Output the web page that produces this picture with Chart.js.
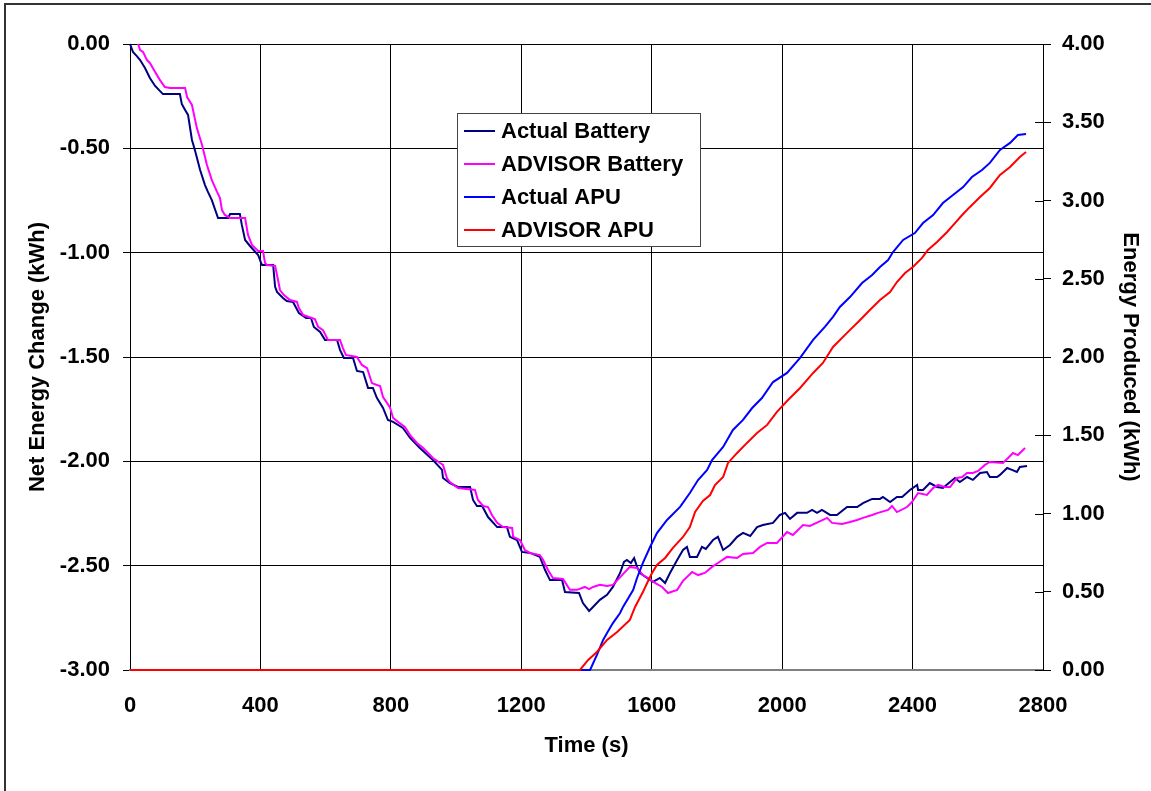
<!DOCTYPE html>
<html>
<head>
<meta charset="utf-8">
<script src="https://cdn.jsdelivr.net/npm/chart.js@4/dist/chart.umd.min.js"></script>
<style>
  body { margin: 0; background: #fff; }
  canvas { display: block; }
</style>
</head>
<body>
<canvas id="chart" width="1151" height="791"></canvas>
<script>
// series: time (s) and energy (kWh)
const actualBatteryTime = [0, 9, 21, 31, 46, 61, 77, 101, 153, 159, 169, 178, 190, 199, 215, 230, 239, 251, 270, 301,
  307, 337, 343, 353, 368, 393, 402, 405, 439, 445, 451, 469, 481, 500, 518, 540, 555, 564, 583, 598,
  635, 644, 656, 684, 696, 715, 730, 745, 757, 776, 791, 807, 837, 859, 889, 929, 957, 960, 981, 1006,
  1043, 1052, 1064, 1080, 1098, 1126, 1156, 1165, 1187, 1202, 1227, 1257, 1273, 1288, 1325, 1334, 1377, 1389, 1408, 1420,
  1441, 1463, 1481, 1503, 1515, 1524, 1536, 1546, 1555, 1564, 1586, 1604, 1625, 1641, 1656, 1678, 1696, 1708, 1717, 1739,
  1754, 1766, 1788, 1803, 1819, 1840, 1862, 1880, 1902, 1923, 1941, 1972, 1993, 2009, 2024, 2046, 2076, 2092, 2107, 2122,
  2147, 2168, 2199, 2230, 2248, 2276, 2300, 2309, 2331, 2352, 2368, 2392, 2414, 2417, 2432, 2453, 2475, 2493, 2515, 2530,
  2545, 2567, 2585, 2607, 2628, 2637, 2659, 2668, 2690, 2705, 2720, 2729, 2751];
const actualBatteryKWh = [0, -0.038, -0.058, -0.077, -0.115, -0.163, -0.201, -0.240, -0.240, -0.288, -0.316, -0.340, -0.460, -0.508, -0.604, -0.676, -0.709, -0.748, -0.834, -0.834,
  -0.815, -0.815, -0.867, -0.939, -0.968, -1.011, -1.049, -1.059, -1.059, -1.164, -1.188, -1.217, -1.232, -1.236, -1.289, -1.313, -1.313, -1.356, -1.380, -1.418,
  -1.418, -1.466, -1.505, -1.505, -1.567, -1.572, -1.648, -1.648, -1.696, -1.744, -1.802, -1.811, -1.840, -1.888, -1.936, -1.994, -2.041, -2.080, -2.104, -2.123,
  -2.123, -2.185, -2.214, -2.214, -2.267, -2.315, -2.315, -2.362, -2.377, -2.434, -2.439, -2.458, -2.521, -2.569, -2.569, -2.626, -2.631, -2.679, -2.717, -2.698,
  -2.664, -2.640, -2.602, -2.535, -2.482, -2.473, -2.487, -2.463, -2.506, -2.535, -2.559, -2.578, -2.559, -2.583, -2.535, -2.473, -2.425, -2.410, -2.458, -2.458,
  -2.410, -2.420, -2.377, -2.362, -2.425, -2.401, -2.362, -2.343, -2.358, -2.315, -2.305, -2.295, -2.257, -2.247, -2.276, -2.247, -2.247, -2.233, -2.247, -2.233,
  -2.257, -2.257, -2.219, -2.219, -2.200, -2.180, -2.180, -2.171, -2.195, -2.171, -2.171, -2.137, -2.113, -2.137, -2.137, -2.104, -2.123, -2.128, -2.099, -2.080,
  -2.099, -2.075, -2.089, -2.056, -2.051, -2.075, -2.075, -2.065, -2.032, -2.041, -2.051, -2.027, -2.022];

const advisorBatteryTime = [25, 31, 40, 52, 61, 77, 92, 107, 123, 169, 175, 190, 205, 221, 236, 251, 267, 276, 282, 291,
  307, 353, 362, 374, 393, 408, 414, 420, 445, 454, 460, 472, 491, 512, 518, 531, 567, 577, 592, 607,
  644, 653, 662, 696, 711, 727, 742, 757, 767, 776, 797, 807, 822, 843, 859, 880, 899, 929, 951, 960,
  972, 981, 1006, 1058, 1067, 1083, 1098, 1110, 1126, 1144, 1172, 1175, 1196, 1211, 1227, 1257, 1267, 1282, 1297, 1328,
  1349, 1371, 1395, 1408, 1420, 1441, 1463, 1481, 1509, 1533, 1555, 1573, 1589, 1610, 1632, 1650, 1678, 1696, 1724, 1742,
  1763, 1785, 1803, 1831, 1862, 1880, 1911, 1932, 1954, 1984, 2015, 2033, 2064, 2085, 2110, 2138, 2153, 2184, 2208, 2230,
  2248, 2276, 2294, 2325, 2337, 2352, 2383, 2398, 2417, 2444, 2463, 2478, 2499, 2515, 2536, 2552, 2567, 2585, 2601, 2622,
  2637, 2677, 2693, 2708, 2723, 2745];
const advisorBatteryKWh = [0, -0.029, -0.038, -0.077, -0.091, -0.134, -0.173, -0.206, -0.211, -0.211, -0.254, -0.292, -0.403, -0.484, -0.580, -0.652, -0.709, -0.738, -0.796, -0.819,
  -0.834, -0.834, -0.915, -0.963, -0.992, -0.992, -1.049, -1.059, -1.064, -1.131, -1.179, -1.203, -1.227, -1.236, -1.265, -1.299, -1.318, -1.356, -1.371, -1.418,
  -1.418, -1.457, -1.490, -1.500, -1.538, -1.553, -1.625, -1.634, -1.639, -1.692, -1.740, -1.792, -1.811, -1.835, -1.874, -1.912, -1.936, -1.984, -2.008, -2.017,
  -2.080, -2.099, -2.128, -2.137, -2.185, -2.214, -2.219, -2.257, -2.295, -2.315, -2.319, -2.362, -2.377, -2.425, -2.439, -2.449, -2.473, -2.521, -2.559, -2.564,
  -2.616, -2.616, -2.602, -2.612, -2.602, -2.592, -2.597, -2.592, -2.545, -2.506, -2.511, -2.545, -2.559, -2.583, -2.602, -2.631, -2.616, -2.573, -2.530, -2.545,
  -2.535, -2.506, -2.487, -2.458, -2.463, -2.444, -2.439, -2.410, -2.391, -2.391, -2.339, -2.353, -2.305, -2.310, -2.291, -2.271, -2.295, -2.300, -2.291, -2.281,
  -2.271, -2.257, -2.247, -2.233, -2.214, -2.243, -2.219, -2.195, -2.152, -2.161, -2.128, -2.113, -2.123, -2.123, -2.080, -2.075, -2.056, -2.056, -2.046, -2.017,
  -2.003, -2.008, -1.984, -1.960, -1.970, -1.936];

const actualApuTime = [0, 1411, 1432, 1451, 1463, 1481, 1503, 1512, 1543, 1555, 1573, 1595, 1616, 1647, 1687, 1717, 1742, 1770, 1785, 1819,
  1849, 1880, 1908, 1938, 1972, 2015, 2055, 2095, 2131, 2156, 2177, 2208, 2245, 2276, 2300, 2325, 2340, 2371, 2407, 2432,
  2463, 2493, 2524, 2555, 2582, 2613, 2637, 2668, 2699, 2723, 2748];
const actualApuKWh = [0, 0, 0.096, 0.192, 0.236, 0.300, 0.364, 0.403, 0.511, 0.588, 0.684, 0.786, 0.875, 0.959, 1.042, 1.131, 1.214, 1.278, 1.342, 1.425,
  1.534, 1.598, 1.674, 1.738, 1.840, 1.898, 1.994, 2.109, 2.192, 2.256, 2.320, 2.383, 2.473, 2.524, 2.575, 2.620, 2.671, 2.748, 2.792, 2.856,
  2.907, 2.984, 3.035, 3.086, 3.150, 3.195, 3.240, 3.323, 3.368, 3.419, 3.425];

const advisorApuTime = [0, 1380, 1405, 1432, 1463, 1494, 1533, 1549, 1573, 1586, 1601, 1616, 1641, 1665, 1696, 1717, 1733, 1757, 1779, 1794,
  1819, 1834, 1862, 1892, 1923, 1954, 1984, 2018, 2055, 2095, 2125, 2156, 2199, 2233, 2269, 2300, 2331, 2352, 2377, 2401,
  2429, 2447, 2475, 2506, 2530, 2552, 2576, 2607, 2637, 2668, 2699, 2729, 2748];
const advisorApuKWh = [0, 0, 0.064, 0.115, 0.192, 0.243, 0.320, 0.403, 0.498, 0.556, 0.620, 0.671, 0.716, 0.780, 0.850, 0.914, 1.010, 1.080, 1.118, 1.182,
  1.233, 1.323, 1.387, 1.451, 1.514, 1.566, 1.649, 1.725, 1.802, 1.898, 1.962, 2.064, 2.154, 2.224, 2.300, 2.364, 2.415, 2.479, 2.537, 2.575,
  2.633, 2.684, 2.735, 2.799, 2.856, 2.907, 2.959, 3.022, 3.080, 3.163, 3.214, 3.278, 3.310];

const seriesNames = ['Actual Battery', 'ADVISOR Battery', 'Actual APU', 'ADVISOR APU'];
const seriesColors = ['#000080', '#ff00ff', '#0000ff', '#ff0000'];

function points(times, values) {
  return times.map((t, i) => ({x: t, y: values[i]}));
}

const FONT = "'Liberation Sans', Arial, sans-serif";
Chart.defaults.font.family = FONT;
Chart.defaults.font.size = 22;
Chart.defaults.font.weight = 'bold';
Chart.defaults.color = '#000';

// legend box inside the plot + outer frame
const boxPlugin = {
  id: 'boxPlugin',
  beforeDraw(chart) {
    const ctx = chart.ctx;
    ctx.save();
    ctx.strokeStyle = '#333';
    ctx.lineWidth = 2;
    ctx.strokeRect(5, 4, 1200, 850);
    ctx.restore();
  },
  afterDatasetsDraw(chart) {
    const ctx = chart.ctx;
    const y2 = chart.scales.y2;
    const area = chart.chartArea;
    ctx.save();
    // inner half of the right axis tick marks
    ctx.strokeStyle = '#000';
    ctx.lineWidth = 1;
    y2.ticks.forEach(tk => {
      const py = Math.round(y2.getPixelForValue(tk.value)) + 0.5;
      ctx.beginPath();
      ctx.moveTo(area.right - 8, py);
      ctx.lineTo(area.right, py);
      ctx.stroke();
    });

    const bx = 457, by = 113, bw = 243, bh = 133;
    ctx.fillStyle = '#fff';
    ctx.fillRect(bx, by, bw, bh);
    ctx.strokeStyle = '#444';
    ctx.lineWidth = 1;
    ctx.strokeRect(bx + 0.5, by + 0.5, bw, bh);
    ctx.font = 'bold 22px ' + FONT;
    ctx.textBaseline = 'middle';
    ctx.textAlign = 'left';
    chart.data.datasets.forEach((ds, i) => {
      const ly = by + 18 + i * 33;
      ctx.strokeStyle = ds.borderColor;
      ctx.lineWidth = 2;
      ctx.beginPath();
      ctx.moveTo(bx + 7, ly);
      ctx.lineTo(bx + 38, ly);
      ctx.stroke();
      ctx.fillStyle = '#000';
      ctx.fillText(ds.label, bx + 44, ly + 1);
    });
    ctx.restore();
  }
};

const ctx = document.getElementById('chart').getContext('2d');
new Chart(ctx, {
  type: 'line',
  data: {
    datasets: [
      {label: seriesNames[0], data: points(actualBatteryTime, actualBatteryKWh), yAxisID: 'y', borderColor: seriesColors[0], order: 4},
      {label: seriesNames[1], data: points(advisorBatteryTime, advisorBatteryKWh), yAxisID: 'y', borderColor: seriesColors[1], order: 3},
      {label: seriesNames[2], data: points(actualApuTime, actualApuKWh), yAxisID: 'y2', borderColor: seriesColors[2], order: 2},
      {label: seriesNames[3], data: points(advisorApuTime, advisorApuKWh), yAxisID: 'y2', borderColor: seriesColors[3], order: 1}
    ]
  },
  options: {
    responsive: false,
    animation: false,
    devicePixelRatio: 1,
    layout: {padding: {top: 44, left: 0, right: 0, bottom: 0}},
    datasets: {line: {clip: 4}},
    elements: {
      point: {radius: 0},
      line: {borderWidth: 2, tension: 0, fill: false}
    },
    plugins: {
      legend: {display: false},
      tooltip: {enabled: false}
    },
    scales: {
      x: {
        type: 'linear',
        min: 0,
        max: 2800,
        afterFit: s => { s.height = 121; },
        ticks: {stepSize: 400, autoSkip: false, maxRotation: 0, padding: 23, callback: v => String(v)},
        grid: {color: '#000', lineWidth: 1, drawTicks: false},
        border: {color: '#808080', width: 2},
        title: {display: true, text: 'Time (s)', padding: {top: 0, bottom: 32}}
      },
      y: {
        position: 'left',
        min: -3,
        max: 0,
        afterFit: s => { s.width = 130; },
        ticks: {stepSize: 0.5, padding: 13, callback: v => v.toFixed(2)},
        grid: {color: '#000', lineWidth: 1, tickLength: 7},
        border: {color: '#000', width: 1},
        title: {display: true, text: 'Net Energy Change (kWh)', padding: {top: 25, bottom: 0}}
      },
      y2: {
        position: 'right',
        min: 0,
        max: 4,
        afterFit: s => { s.width = 108; },
        ticks: {stepSize: 0.5, padding: 11, callback: v => v.toFixed(2)},
        grid: {drawOnChartArea: false, color: '#000', lineWidth: 1, tickLength: 8},
        border: {color: '#000', width: 1},
        title: {display: true, text: 'Energy Produced (kWh)', padding: {top: 8, bottom: 0}}
      }
    }
  },
  plugins: [boxPlugin]
});
</script>
</body>
</html>
